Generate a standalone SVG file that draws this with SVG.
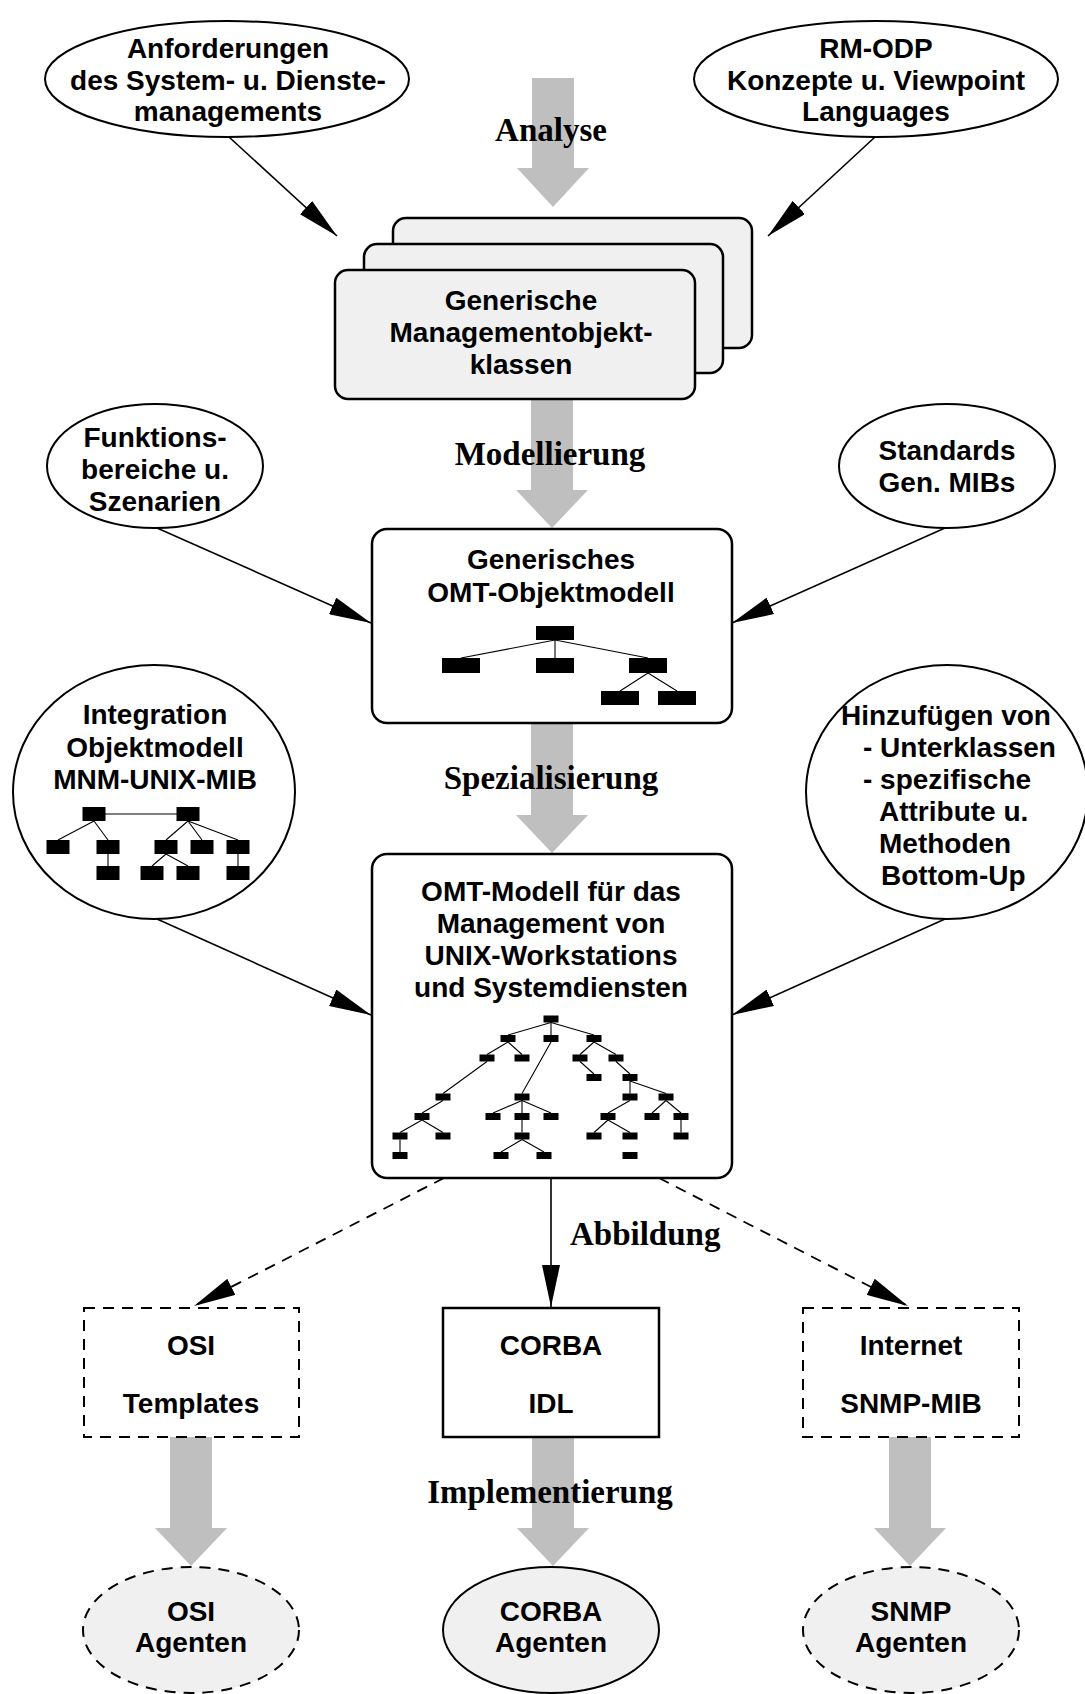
<svg xmlns="http://www.w3.org/2000/svg" width="1085" height="1694" viewBox="0 0 1085 1694">
<style>
.s{font-family:"Liberation Sans",Arial,sans-serif;font-weight:bold;font-size:28px;fill:#000;text-anchor:middle}
.l{font-family:"Liberation Serif","Times New Roman",serif;font-weight:bold;font-size:33px;fill:#000;text-anchor:middle}
.ol{fill:#fff;stroke:#000;stroke-width:2}
.gb{fill:#f0f0f0;stroke:#000;stroke-width:2.5}
.ga{fill:#bfbfbf;stroke:none}
.c{stroke:#000;stroke-width:1.6;fill:none}
.d{stroke:#000;stroke-width:1.8;fill:none;stroke-dasharray:11 8}
.t{stroke:#000;stroke-width:1.1;fill:none}
.n{fill:#000}
</style>
<defs>
<marker id="ah" viewBox="0 0 42 18" refX="42" refY="9" markerWidth="42" markerHeight="18" markerUnits="userSpaceOnUse" orient="auto">
<path d="M0,0 L42,9 L0,18 z" fill="#000"/>
</marker>
</defs>
<rect width="1085" height="1694" fill="#fff"/>

<g id="gray-arrows">
<polygon class="ga" points="532,78 574,78 574,168 589,168 553,207 517,168 532,168"/>
<polygon class="ga" points="531,398 573,398 573,490 588,490 552,528 516,490 531,490"/>
<polygon class="ga" points="531,723 573,723 573,815 588,815 552,853 516,815 531,815"/>
<polygon class="ga" points="532,1437 574,1437 574,1528 589,1528 553,1566 517,1528 532,1528"/>
<polygon class="ga" points="170,1437 212,1437 212,1528 227,1528 191,1566 155,1528 170,1528"/>
<polygon class="ga" points="889,1437 931,1437 931,1528 946,1528 910,1566 874,1528 889,1528"/>
</g>

<g id="labels">
<text class="l" x="551" y="141">Analyse</text>
<text class="l" x="550" y="465">Modellierung</text>
<text class="l" x="551" y="789">Spezialisierung</text>
<text class="l" x="570" y="1245" style="text-anchor:start">Abbildung</text>
<text class="l" x="550" y="1503">Implementierung</text>
</g>

<g id="connectors">
<line class="c" x1="229" y1="137" x2="337" y2="236" marker-end="url(#ah)"/>
<line class="c" x1="875" y1="137" x2="768" y2="236" marker-end="url(#ah)"/>
<line class="c" x1="157" y1="528" x2="371" y2="623" marker-end="url(#ah)"/>
<line class="c" x1="945" y1="528" x2="732" y2="623" marker-end="url(#ah)"/>
<line class="c" x1="157" y1="919" x2="371" y2="1015" marker-end="url(#ah)"/>
<line class="c" x1="945" y1="919" x2="732" y2="1015" marker-end="url(#ah)"/>
<line class="d" x1="444" y1="1178" x2="194" y2="1306" marker-end="url(#ah)"/>
<line class="c" x1="551" y1="1178" x2="551" y2="1307" marker-end="url(#ah)"/>
<line class="d" x1="659" y1="1178" x2="908" y2="1306" marker-end="url(#ah)"/>
</g>

<g id="n-anforderungen">
<ellipse class="ol" cx="227" cy="79" rx="182" ry="58"/>
<text class="s" x="228" y="58">Anforderungen</text>
<text class="s" x="228" y="90">des System- u. Dienste-</text>
<text class="s" x="228" y="121">managements</text>
</g>

<g id="n-rmodp">
<ellipse class="ol" cx="876" cy="79" rx="182" ry="58"/>
<text class="s" x="876" y="58">RM-ODP</text>
<text class="s" x="876" y="90">Konzepte u. Viewpoint</text>
<text class="s" x="876" y="121">Languages</text>
</g>

<g id="n-generische-klassen">
<rect class="gb" x="393" y="218" width="359" height="130" rx="13"/>
<rect class="gb" x="364" y="244" width="359" height="129" rx="13"/>
<rect class="gb" x="335" y="270" width="360" height="129" rx="13"/>
<text class="s" x="521" y="310">Generische</text>
<text class="s" x="521" y="342">Managementobjekt-</text>
<text class="s" x="521" y="374">klassen</text>
</g>

<g id="n-funktionsbereiche">
<ellipse class="ol" cx="155" cy="466" rx="108" ry="62"/>
<text class="s" x="155" y="447">Funktions-</text>
<text class="s" x="155" y="479">bereiche u.</text>
<text class="s" x="155" y="511">Szenarien</text>
</g>

<g id="n-standards">
<ellipse class="ol" cx="947" cy="466" rx="108" ry="62"/>
<text class="s" x="947" y="460">Standards</text>
<text class="s" x="947" y="492">Gen. MIBs</text>
</g>

<g id="n-generisches-omt">
<rect class="ol" x="372" y="529" width="360" height="194" rx="15" style="stroke-width:2.5"/>
<text class="s" x="551" y="569">Generisches</text>
<text class="s" x="551" y="602">OMT-Objektmodell</text>
<g class="t">
<line x1="555" y1="640" x2="461" y2="658"/>
<line x1="555" y1="640" x2="555" y2="658"/>
<line x1="555" y1="640" x2="648" y2="658"/>
<line x1="648" y1="673" x2="620" y2="691"/>
<line x1="648" y1="673" x2="677" y2="691"/>
</g>
<rect class="n" x="536" y="626" width="38" height="14"/>
<rect class="n" x="442" y="658" width="38" height="15"/>
<rect class="n" x="536" y="658" width="38" height="15"/>
<rect class="n" x="629" y="658" width="38" height="15"/>
<rect class="n" x="601" y="691" width="38" height="14"/>
<rect class="n" x="658" y="691" width="38" height="14"/>
</g>

<g id="n-integration">
<ellipse class="ol" cx="154" cy="792" rx="141" ry="127"/>
<text class="s" x="155" y="724">Integration</text>
<text class="s" x="155" y="757">Objektmodell</text>
<text class="s" x="155" y="789">MNM-UNIX-MIB</text>
<g class="t">
<line x1="94" y1="814" x2="188" y2="814"/>
<line x1="94" y1="821" x2="58" y2="840"/>
<line x1="94" y1="821" x2="108" y2="840"/>
<line x1="188" y1="821" x2="166" y2="840"/>
<line x1="188" y1="821" x2="202" y2="840"/>
<line x1="188" y1="821" x2="238" y2="840"/>
<line x1="108" y1="854" x2="108" y2="866"/>
<line x1="166" y1="854" x2="152" y2="866"/>
<line x1="166" y1="854" x2="188" y2="866"/>
<line x1="238" y1="854" x2="238" y2="866"/>
</g>
<rect class="n" x="82.5" y="807" width="23" height="14"/>
<rect class="n" x="176.5" y="807" width="23" height="14"/>
<rect class="n" x="46.5" y="840" width="23" height="14"/>
<rect class="n" x="96.5" y="840" width="23" height="14"/>
<rect class="n" x="154.5" y="840" width="23" height="14"/>
<rect class="n" x="190.5" y="840" width="23" height="14"/>
<rect class="n" x="226.5" y="840" width="23" height="14"/>
<rect class="n" x="96.5" y="866" width="23" height="14"/>
<rect class="n" x="140.5" y="866" width="23" height="14"/>
<rect class="n" x="176.5" y="866" width="23" height="14"/>
<rect class="n" x="226.5" y="866" width="23" height="14"/>
</g>

<g id="n-hinzufuegen">
<ellipse class="ol" cx="947" cy="792" rx="141" ry="127"/>
<g class="s" style="text-anchor:start">
<text x="841" y="725">Hinzufügen von</text>
<text x="863" y="757">- Unterklassen</text>
<text x="863" y="789">- spezifische</text>
<text x="879" y="821">Attribute u.</text>
<text x="879" y="853">Methoden</text>
<text x="881" y="885">Bottom-Up</text>
</g>
</g>

<g id="n-omt-modell">
<rect class="ol" x="372" y="854" width="360" height="324" rx="15" style="stroke-width:2.5"/>
<text class="s" x="551" y="901">OMT-Modell für das</text>
<text class="s" x="551" y="933">Management von</text>
<text class="s" x="551" y="965">UNIX-Workstations</text>
<text class="s" x="551" y="997">und Systemdiensten</text>
<g class="t">
<line x1="551" y1="1022.5" x2="508" y2="1035"/>
<line x1="551" y1="1022.5" x2="551" y2="1035"/>
<line x1="551" y1="1022.5" x2="594" y2="1035"/>
<line x1="508" y1="1042" x2="487" y2="1054.5"/>
<line x1="508" y1="1042" x2="522" y2="1054.5"/>
<line x1="551" y1="1042" x2="522" y2="1093.5"/>
<line x1="594" y1="1042" x2="580" y2="1054.5"/>
<line x1="594" y1="1042" x2="616" y2="1054.5"/>
<line x1="487" y1="1061.5" x2="443" y2="1093.5"/>
<line x1="580" y1="1061.5" x2="594" y2="1074"/>
<line x1="616" y1="1061.5" x2="630" y2="1074"/>
<line x1="630" y1="1081" x2="630" y2="1093.5"/>
<line x1="630" y1="1081" x2="666" y2="1093.5"/>
<line x1="443" y1="1100.5" x2="422" y2="1113"/>
<line x1="522" y1="1100.5" x2="493" y2="1113"/>
<line x1="522" y1="1100.5" x2="522" y2="1113"/>
<line x1="522" y1="1100.5" x2="551" y2="1113"/>
<line x1="630" y1="1100.5" x2="608" y2="1113"/>
<line x1="666" y1="1100.5" x2="652" y2="1113"/>
<line x1="666" y1="1100.5" x2="681" y2="1113"/>
<line x1="422" y1="1120" x2="400" y2="1132.5"/>
<line x1="422" y1="1120" x2="443" y2="1132.5"/>
<line x1="522" y1="1120" x2="522" y2="1132.5"/>
<line x1="608" y1="1120" x2="594" y2="1132.5"/>
<line x1="608" y1="1120" x2="630" y2="1132.5"/>
<line x1="681" y1="1120" x2="681" y2="1132.5"/>
<line x1="400" y1="1139.5" x2="400" y2="1152"/>
<line x1="522" y1="1139.5" x2="501" y2="1152"/>
<line x1="522" y1="1139.5" x2="544" y2="1152"/>
</g>
<g class="n">
<rect x="543.5" y="1015.5" width="15" height="7"/>
<rect x="500.5" y="1035" width="15" height="7"/>
<rect x="543.5" y="1035" width="15" height="7"/>
<rect x="586.5" y="1035" width="15" height="7"/>
<rect x="479.5" y="1054.5" width="15" height="7"/>
<rect x="514.5" y="1054.5" width="15" height="7"/>
<rect x="572.5" y="1054.5" width="15" height="7"/>
<rect x="608.5" y="1054.5" width="15" height="7"/>
<rect x="586.5" y="1074" width="15" height="7"/>
<rect x="622.5" y="1074" width="15" height="7"/>
<rect x="435.5" y="1093.5" width="15" height="7"/>
<rect x="514.5" y="1093.5" width="15" height="7"/>
<rect x="622.5" y="1093.5" width="15" height="7"/>
<rect x="658.5" y="1093.5" width="15" height="7"/>
<rect x="414.5" y="1113" width="15" height="7"/>
<rect x="485.5" y="1113" width="15" height="7"/>
<rect x="514.5" y="1113" width="15" height="7"/>
<rect x="543.5" y="1113" width="15" height="7"/>
<rect x="600.5" y="1113" width="15" height="7"/>
<rect x="644.5" y="1113" width="15" height="7"/>
<rect x="673.5" y="1113" width="15" height="7"/>
<rect x="392.5" y="1132.5" width="15" height="7"/>
<rect x="435.5" y="1132.5" width="15" height="7"/>
<rect x="514.5" y="1132.5" width="15" height="7"/>
<rect x="586.5" y="1132.5" width="15" height="7"/>
<rect x="622.5" y="1132.5" width="15" height="7"/>
<rect x="673.5" y="1132.5" width="15" height="7"/>
<rect x="392.5" y="1152" width="15" height="7"/>
<rect x="493.5" y="1152" width="15" height="7"/>
<rect x="536.5" y="1152" width="15" height="7"/>
<rect x="622.5" y="1152" width="15" height="7"/>
</g>
</g>

<g id="n-osi-templates">
<rect x="84" y="1308" width="215" height="129" fill="none" stroke="#000" stroke-width="2" stroke-dasharray="11 8"/>
<text class="s" x="191" y="1355">OSI</text>
<text class="s" x="191" y="1413">Templates</text>
</g>

<g id="n-corba-idl">
<rect x="443" y="1308" width="216" height="129" fill="#fff" stroke="#000" stroke-width="2.5"/>
<text class="s" x="551" y="1355">CORBA</text>
<text class="s" x="551" y="1413">IDL</text>
</g>

<g id="n-internet-snmp">
<rect x="803" y="1308" width="216" height="129" fill="none" stroke="#000" stroke-width="2" stroke-dasharray="11 8"/>
<text class="s" x="911" y="1355">Internet</text>
<text class="s" x="911" y="1413">SNMP-MIB</text>
</g>

<g id="n-osi-agenten">
<ellipse cx="191" cy="1630" rx="108" ry="63" fill="#f0f0f0" stroke="#000" stroke-width="2" stroke-dasharray="11 8"/>
<text class="s" x="191" y="1621">OSI</text>
<text class="s" x="191" y="1652">Agenten</text>
</g>

<g id="n-corba-agenten">
<ellipse cx="551" cy="1630" rx="108" ry="63" fill="#f0f0f0" stroke="#000" stroke-width="2"/>
<text class="s" x="551" y="1621">CORBA</text>
<text class="s" x="551" y="1652">Agenten</text>
</g>

<g id="n-snmp-agenten">
<ellipse cx="911" cy="1630" rx="108" ry="63" fill="#f0f0f0" stroke="#000" stroke-width="2" stroke-dasharray="11 8"/>
<text class="s" x="911" y="1621">SNMP</text>
<text class="s" x="911" y="1652">Agenten</text>
</g>
</svg>
